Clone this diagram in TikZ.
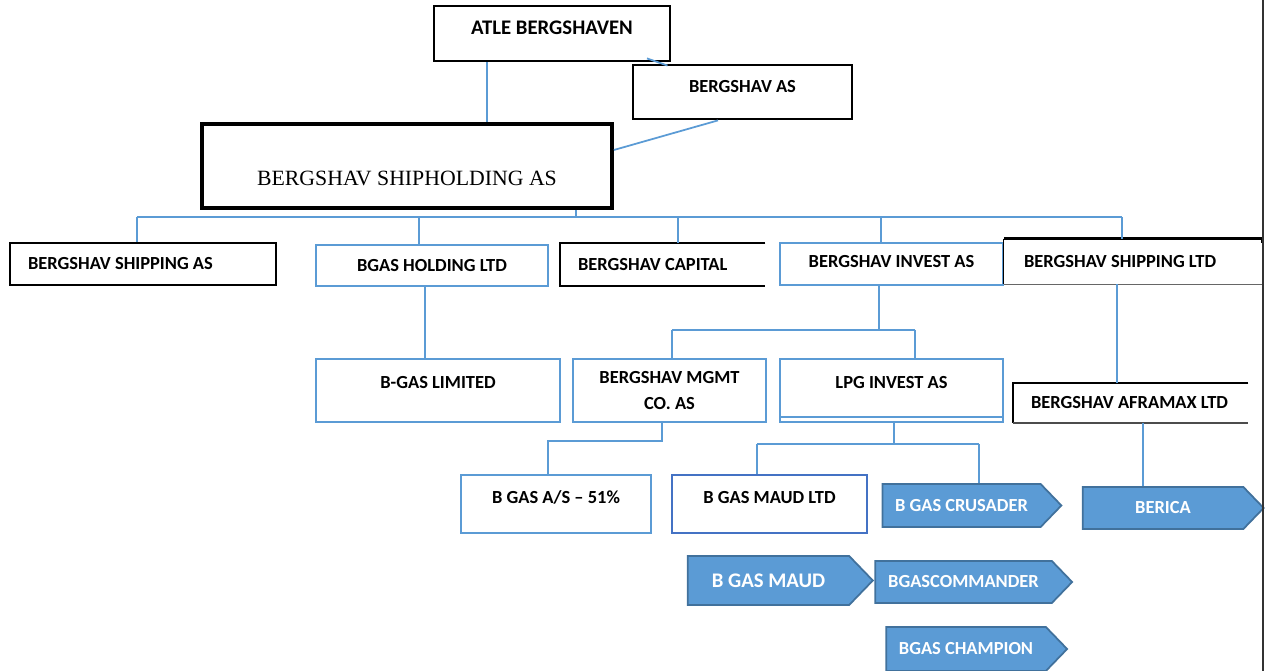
\documentclass[tikz,border=0pt]{standalone}
\usepackage{fontspec}
\setmainfont{Carlito}
\newfontfamily\shipfont{Liberation Serif}
\usetikzlibrary{shapes.symbols}
\definecolor{lblue}{RGB}{91,155,213}
\definecolor{dblue}{RGB}{65,113,156}
\definecolor{mblue}{RGB}{68,114,196}

\begin{document}
\begin{tikzpicture}[x=0.02cm,y=-0.02cm]
  \tikzstyle{bbox}=[draw=black,line width=1.6pt,font=\bfseries\fontsize{10.5}{13}\selectfont,inner sep=0pt]
  \tikzstyle{lbox}=[draw=lblue,line width=1.1pt,font=\bfseries\fontsize{10.5}{13}\selectfont,inner sep=0pt]
  \tikzstyle{obox}=[font=\bfseries\fontsize{10.5}{13}\selectfont,inner ysep=0pt,align=flush left]
  \tikzstyle{flag}=[signal,signal to=east,signal pointer angle=92,fill=lblue,draw=dblue,
    line width=1pt,text=white,font=\bfseries\fontsize{10.5}{13}\selectfont,inner sep=0pt]
  \tikzstyle{link}=[draw=lblue,line width=1pt]
  \useasboundingbox (0,0) rectangle (1266,671);

  % owners
  \node[bbox,minimum width=4.72cm,text height=0.58cm,text depth=0.52cm,
    font=\bfseries\fontsize{11.8}{14}\selectfont] (atle) at (552,33.5) {ATLE BERGSHAVEN};
  \node[bbox,minimum width=4.38cm,text height=0.56cm,text depth=0.52cm] (bas) at (742.5,92) {BERGSHAV AS};
  \node[bbox,line width=2.2pt,minimum width=8.2cm,text height=1.24cm,text depth=0.44cm,
    font=\shipfont\fontsize{12.4}{14}\selectfont] (ship) at (407,166) {BERGSHAV SHIPHOLDING AS};

  % first level
  \node[bbox,line width=1.2pt,minimum height=0.84cm,text width=4.6cm,inner xsep=0.36cm,align=flush left] (shas) at (143,264) {BERGSHAV SHIPPING AS};
  \node[lbox,minimum width=4.64cm,minimum height=0.82cm] (bhold) at (432,265.5) {BGAS HOLDING LTD};
  \node[obox,minimum height=0.86cm,text width=3.38cm,inner xsep=0.36cm] (bcap) at (662.5,264.5) {BERGSHAV CAPITAL};
  \node[lbox,minimum width=4.46cm,text height=0.5cm,text depth=0.34cm] (binv) at (891.5,264) {BERGSHAV INVEST AS};
  \node[obox,minimum height=0.9cm,text width=4.36cm,inner xsep=0.4cm] (bsltd) at (1133,261.5) {BERGSHAV SHIPPING LTD};

  % second level
  \node[lbox,minimum width=4.88cm,text height=0.6cm,text depth=0.66cm] (bglim) at (438,390.5) {B-GAS LIMITED};
  \node[lbox,minimum width=3.86cm,minimum height=1.26cm,align=center] (bmgmt) at (669.5,390.5) {BERGSHAV MGMT\\[1.5pt]CO. AS};
  \node[lbox,minimum width=4.46cm,text height=0.6cm,text depth=0.66cm] (blpg) at (891.5,390.5) {LPG INVEST AS};
  \node[obox,minimum height=0.8cm,text width=3.98cm,inner xsep=0.36cm] (bafr) at (1130.5,403) {BERGSHAV AFRAMAX LTD};

  % third level
  \node[lbox,minimum width=3.8cm,text height=0.56cm,text depth=0.6cm] (bgas51) at (556,504) {B GAS A/S -- 51\%};
  \node[lbox,draw=mblue,minimum width=3.9cm,text height=0.56cm,text depth=0.6cm] (bmaudltd) at (769.5,504) {B GAS MAUD LTD};

  % vessels
  \node[flag,minimum width=3.58cm,minimum height=0.86cm] (fcrus) at (961.5,505.5) {B GAS CRUSADER};
  \node[flag,minimum width=3.62cm,minimum height=0.84cm] (fberica) at (1163,508) {BERICA};
  \node[flag,minimum width=3.7cm,minimum height=0.98cm,font=\bfseries\fontsize{11.8}{14}\selectfont] (fmaud) at (768.5,580.5) {B GAS MAUD};
  \node[flag,minimum width=3.94cm,minimum height=0.84cm] (fcomm) at (963.5,582) {BGASCOMMANDER};
  \node[flag,minimum width=3.62cm,minimum height=0.88cm] (fchamp) at (966,649) {BGAS CHAMPION};

  % open borders
  \draw[line width=1.2pt] (bcap.north east) -- (bcap.north west) -- (bcap.south west) -- (bcap.south east);
  \draw[line width=1.4pt] ([yshift=-0.08cm]bsltd.north east) -- (bsltd.north east) -- (bsltd.north west);
  \draw[line width=0.7pt] (bsltd.north west) -- (bsltd.south west);
  \draw[black!60,line width=0.8pt] (bsltd.south west) -- (bsltd.south east);
  \draw[line width=1.2pt] (bafr.north east) -- (bafr.north west) -- (bafr.south west);
  \draw[black!70,line width=1pt] (bafr.south west) -- (bafr.south east);
  \draw[lblue,line width=1.1pt] ([yshift=0.12cm]blpg.south west) -- ([yshift=0.12cm]blpg.south east);
  \draw[black!80,line width=0.8pt] (1263,0) -- (1263,671);

  % connectors
  \coordinate (v0) at (487,0);
  \draw[link] (v0 |- atle.south) -- (v0 |- ship.north);
  \draw[link] ([xshift=1.9cm,yshift=0.08cm]atle.south) -- ([xshift=-1.5cm,yshift=-0.04cm]bas.north);
  \draw[link] ([xshift=-0.49cm]bas.south) -- ([yshift=0.32cm]ship.east);

  \coordinate (d0) at (576,217);
  \coordinate (d1) at (137,217);
  \coordinate (d2) at (419,217);
  \coordinate (d3) at (678,217);
  \coordinate (d4) at (881,217);
  \coordinate (d5) at (1122,217);
  \draw[link] (ship.south -| d0) -- (d0);
  \draw[link] (d1) -- (d5);
  \draw[link] (d1) -- (d1 |- shas.north);
  \draw[link] (d2) -- (d2 |- bhold.north);
  \draw[link] (d3) -- (d3 |- bcap.north);
  \draw[link] (d4) -- (d4 |- binv.north);
  \draw[link] (d5) -- (d5 |- bsltd.north);

  \coordinate (v1) at (425,0);
  \draw[link] (v1 |- bhold.south) -- (v1 |- bglim.north);

  \coordinate (e0) at (879,330);
  \coordinate (e1) at (672,330);
  \coordinate (e2) at (915,330);
  \draw[link] (binv.south -| e0) -- (e0);
  \draw[link] (e1) -- (e2);
  \draw[link] (e1) -- (e1 |- bmgmt.north);
  \draw[link] (e2) -- (e2 |- blpg.north);

  \coordinate (m0) at (662,441);
  \coordinate (m1) at (548,441);
  \draw[link] (bmgmt.south -| m0) -- (m0) -- (m1) -- (m1 |- bgas51.north);

  \coordinate (l0) at (894,444);
  \coordinate (l1) at (757,444);
  \coordinate (l2) at (979,444);
  \draw[link] (blpg.south -| l0) -- (l0);
  \draw[link] (l1) -- (l2);
  \draw[link] (l1) -- (l1 |- bmaudltd.north);
  \draw[link] (l2) -- (l2 |- fcrus.north);

  \coordinate (s0) at (1117,0);
  \coordinate (s1) at (1143,0);
  \draw[link] (s0 |- bsltd.south) -- (s0 |- bafr.north);
  \draw[link] (s1 |- bafr.south) -- (s1 |- fberica.north);
\end{tikzpicture}
\end{document}
